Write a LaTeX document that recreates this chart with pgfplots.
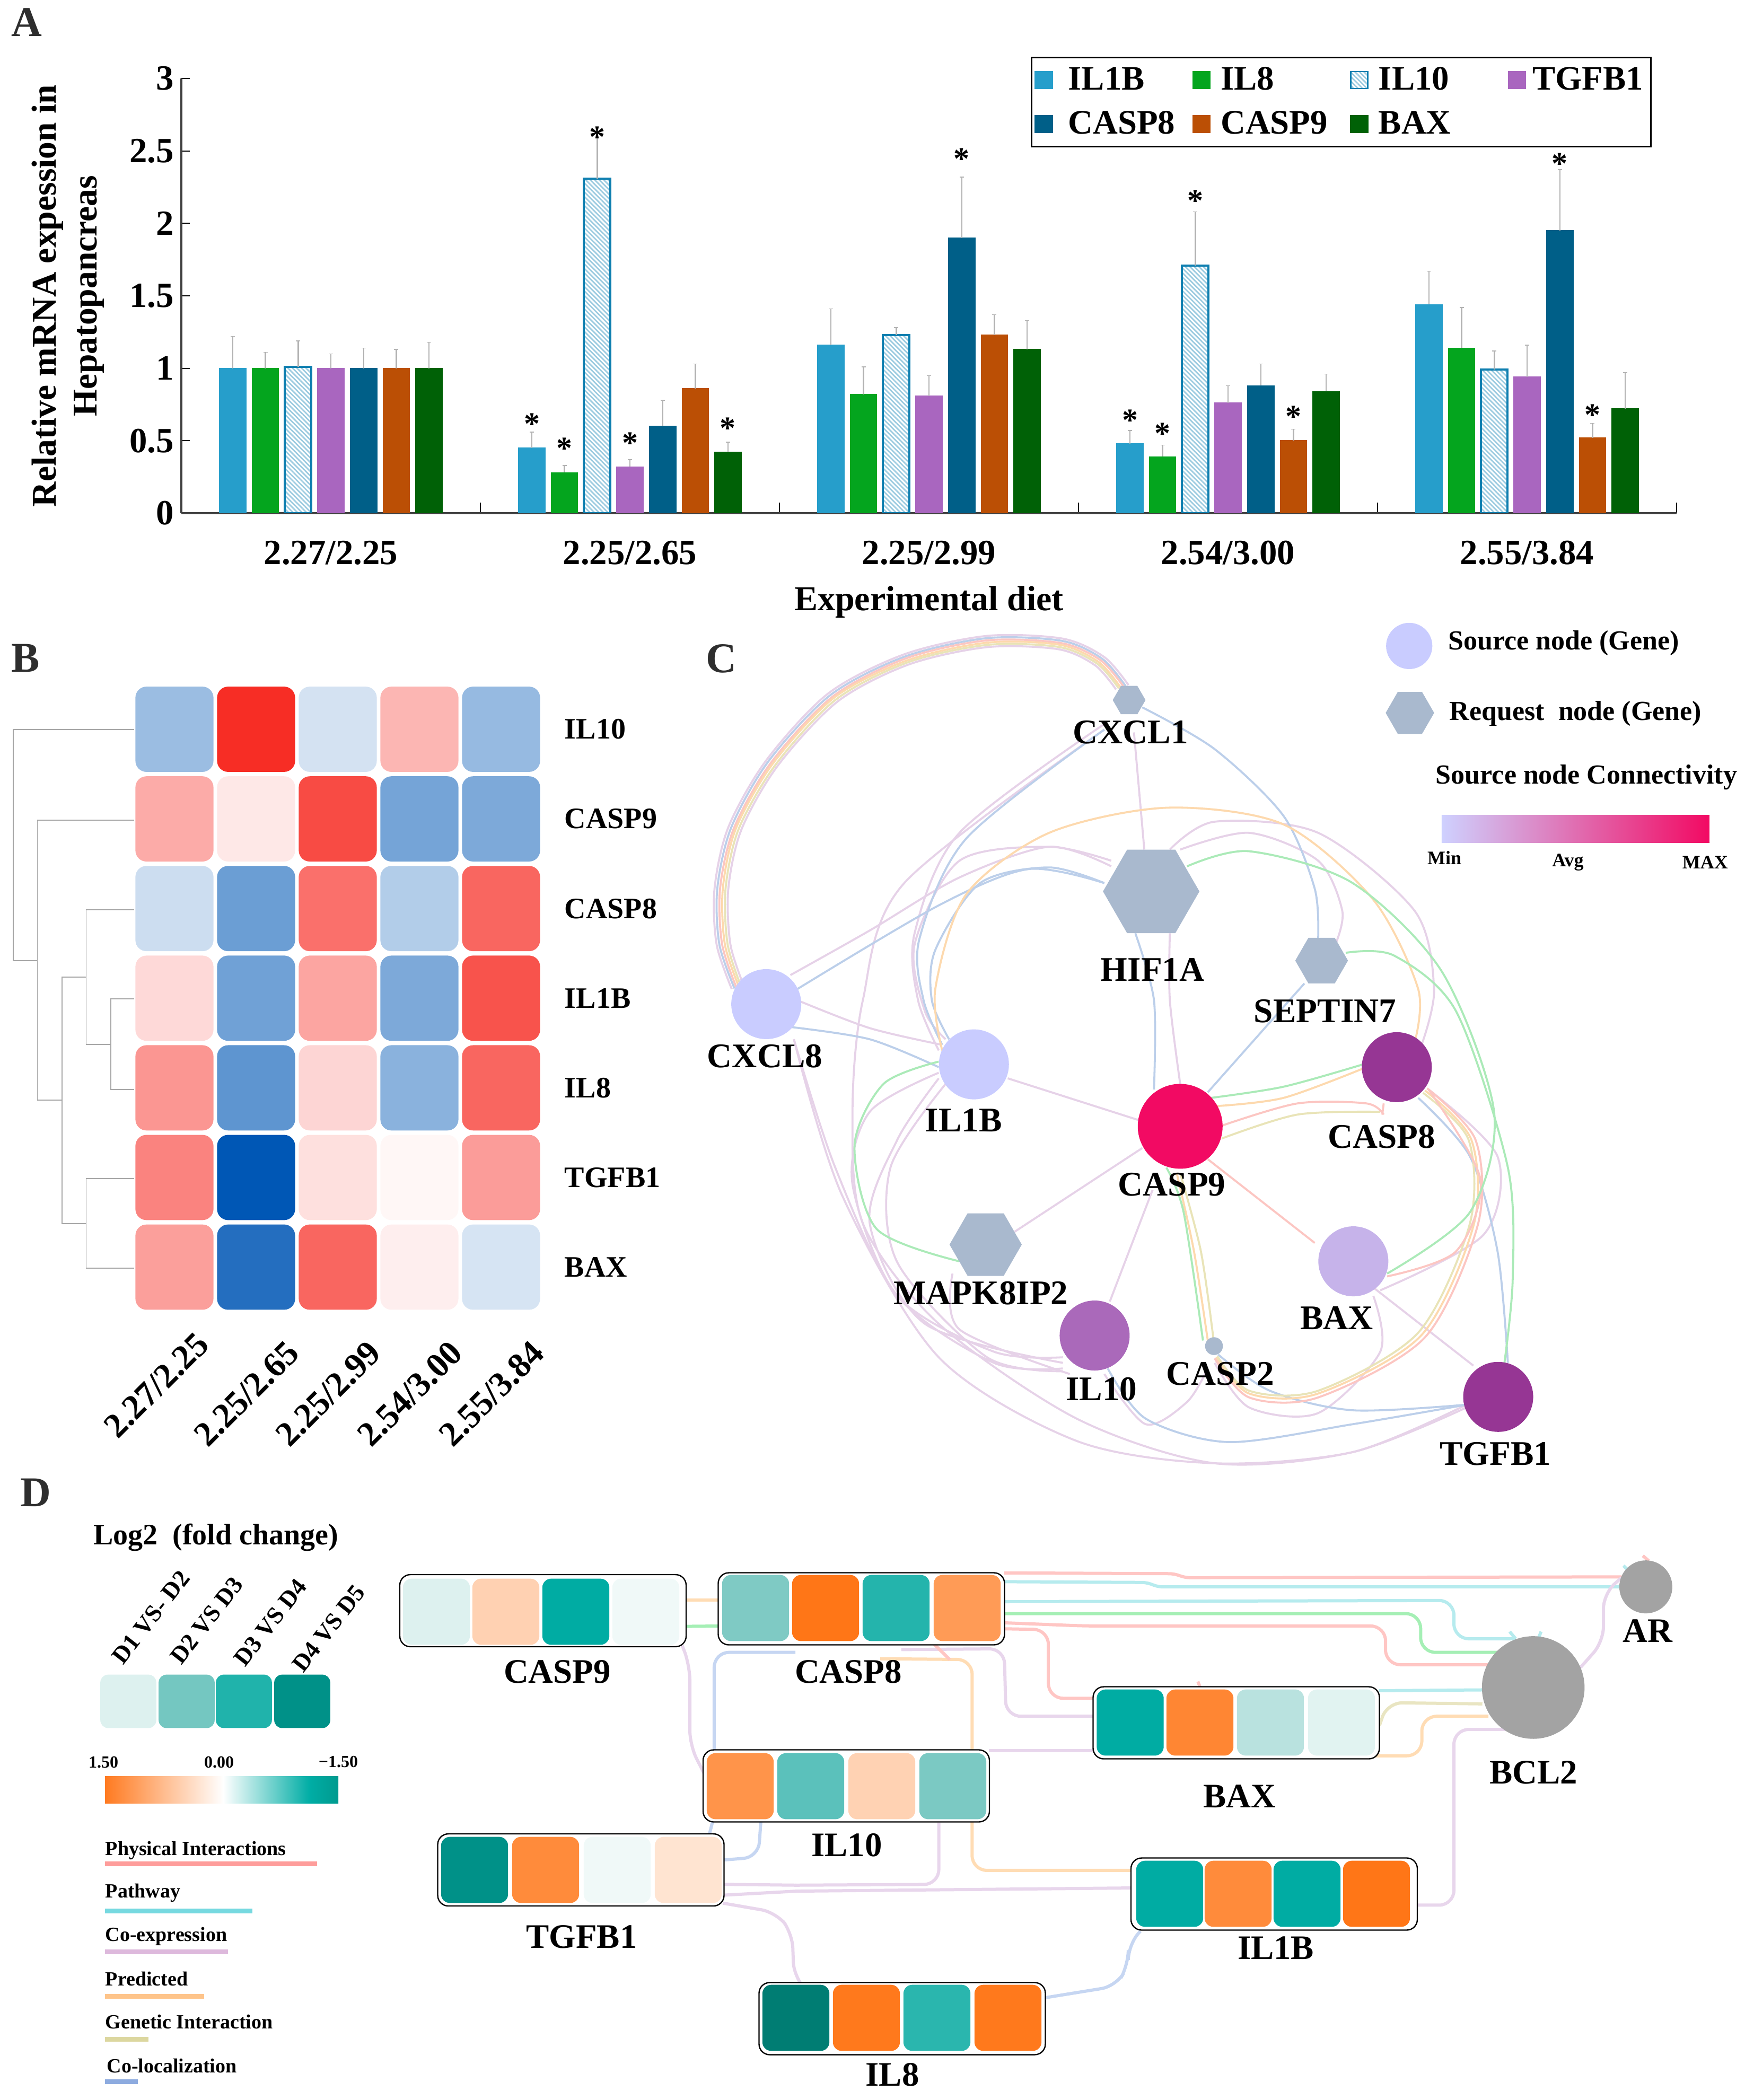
\documentclass[border=0pt]{standalone}
\usepackage{pgfplots}
\pgfplotsset{compat=1.18}
\usepackage{fontspec}
\setmainfont{Liberation Serif}
\usetikzlibrary{patterns.meta}

% text sizes are bold throughout
\newcommand{\fz}[1]{\fontsize{#1}{#1}\selectfont\bfseries}

% bars
\definecolor{cIL1B}{HTML}{269ECB}
\definecolor{cIL8}{HTML}{04A51E}
\definecolor{cIL10}{HTML}{0F7FB0}
\definecolor{cIL10h}{HTML}{9CCBE0}
\definecolor{cTGFB1}{HTML}{A966BF}
\definecolor{cCASP8}{HTML}{005F88}
\definecolor{cCASP9}{HTML}{BB4F05}
\definecolor{cBAX}{HTML}{006106}
% network edges panel C
\definecolor{eCo}{HTML}{E6D2E8}
\definecolor{eLoc}{HTML}{BCCFEA}
\definecolor{ePre}{HTML}{FDD9AE}
\definecolor{ePhy}{HTML}{FCC6C2}
\definecolor{eGen}{HTML}{E9E4B8}
\definecolor{eGrn}{HTML}{ABEAB8}
% edges panel D
\definecolor{dPhy}{HTML}{FFC6C4}
\definecolor{dPat}{HTML}{B6EBEE}
\definecolor{dCo}{HTML}{E8D6EC}
\definecolor{dPre}{HTML}{FFDCB4}
\definecolor{dGen}{HTML}{E9E5C2}
\definecolor{dLoc}{HTML}{C6D6F2}
\definecolor{dGrn}{HTML}{A5EFB5}
% nodes
\definecolor{nSrc}{HTML}{C9CCFF}
\definecolor{nReq}{HTML}{A9B9CE}
\definecolor{nHot}{HTML}{F20A63}
\definecolor{nDark}{HTML}{963694}
\definecolor{nBax}{HTML}{C6B3EA}
\definecolor{nIl}{HTML}{AA69BA}

% rounded rectangle marks: name, half width, half height, radius (pt)
\newcommand{\cellmark}[4]{%
\pgfdeclareplotmark{#1}{%
\pgfpathmoveto{\pgfpoint{-#2pt+#4pt}{-#3pt}}%
\pgfpathlineto{\pgfpoint{#2pt-#4pt}{-#3pt}}%
\pgfpatharc{-90}{0}{#4pt}%
\pgfpathlineto{\pgfpoint{#2pt}{#3pt-#4pt}}%
\pgfpatharc{0}{90}{#4pt}%
\pgfpathlineto{\pgfpoint{-#2pt+#4pt}{#3pt}}%
\pgfpatharc{90}{180}{#4pt}%
\pgfpathlineto{\pgfpoint{-#2pt}{-#3pt+#4pt}}%
\pgfpatharc{180}{270}{#4pt}%
\pgfpathclose
\pgfusepathqfillstroke}}
\cellmark{cellB}{18.2}{19.9}{5}
\cellmark{cellD}{15.6}{15.4}{4}
\cellmark{cellK}{13}{12.4}{3.5}
\cellmark{genebox}{67.5}{17}{5}
\pgfdeclareplotmark{hexa}{%
\pgfpathmoveto{\pgfqpoint{\pgfplotmarksize}{0pt}}%
\pgfpathlineto{\pgfpoint{.5\pgfplotmarksize}{.866\pgfplotmarksize}}%
\pgfpathlineto{\pgfpoint{-.5\pgfplotmarksize}{.866\pgfplotmarksize}}%
\pgfpathlineto{\pgfpoint{-\pgfplotmarksize}{0pt}}%
\pgfpathlineto{\pgfpoint{-.5\pgfplotmarksize}{-.866\pgfplotmarksize}}%
\pgfpathlineto{\pgfpoint{.5\pgfplotmarksize}{-.866\pgfplotmarksize}}%
\pgfpathclose
\pgfusepathqfillstroke}

\newcommand{\ed}[2]{\addplot[smooth,no markers,line width=.95pt,color=#1] coordinates {#2};}
\newcommand{\de}[2]{\addplot[sharp plot,rounded corners=7pt,no markers,line width=1.5pt,color=#1] coordinates {#2};}
\newcommand{\lab}[4]{\node[font=\fz{#4},inner sep=0pt] at (axis cs:#1,#2) {#3};}
\newcommand{\st}[2]{\node[font=\fz{15},inner sep=0pt,yshift=-3pt] at (axis cs:#1,#2) {*};}
\newcommand{\nd}[5]{\addplot[only marks,mark=#1,mark size=#2pt,color=#3,mark options={fill=#3}] coordinates {(#4,#5)};}

\begin{document}
\begin{tikzpicture}
\useasboundingbox (0,0) rectangle (822.5pt,990.25pt);

% ---------- A: bars ----------
\begin{axis}[
at={(85.5pt,748.25pt)},anchor=south west,scale only axis,width=705pt,height=205pt,
xmin=-0.5,xmax=4.5,ymin=0,ymax=3,
ybar=2.925pt,bar width=12.5pt,
axis x line=bottom,axis y line=left,axis line style={-,line width=.8pt,black!75},
xtick={0,1,2,3,4},xticklabels={2.27/2.25,2.25/2.65,2.25/2.99,2.54/3.00,2.55/3.84},
minor xtick={-0.5,0.5,1.5,2.5,3.5,4.5},
major x tick style={draw=none},minor x tick style={black,line width=.5pt},
minor tick length=5pt,tick align=inside,
ytick={0,0.5,1,1.5,2,2.5,3},yticklabels={0,0.5,1,1.5,2,2.5,3},
y tick style={black,line width=.5pt},major tick length=4pt,
/pgf/number format/assume math mode=true,
tick label style={font=\fz{16.7}},
xticklabel style={yshift=-9.6pt},
xlabel={Experimental diet},xlabel style={font=\fz{16.5},yshift=-3pt},
ylabel={Relative mRNA expession in\\[3pt]Hepatopancreas},
ylabel style={align=center,font=\fz{16.4},at={(axis description cs:-0.0465,0.5)},anchor=south},
error bars/y dir=plus,error bars/y explicit,
error bars/error bar style={line width=.6pt,black!30},
error bars/error mark options={rotate=90,mark size=1pt,black!30},
legend columns=4,
legend image code/.code={\draw[#1,line width=.6pt] (1.2pt,-4pt) rectangle (9.2pt,4pt);},
legend style={at={(0.568,1.05)},anchor=north west,draw=black,line width=.7pt,
 font=\fz{16.2},cells={anchor=west},row sep=4.5pt,inner xsep=1.5pt,inner ysep=2.5pt,
 /tikz/every even column/.append style={column sep=0pt}},
]
\addplot[fill=cIL1B,draw=cIL1B] coordinates {(0,1)+-(0,.22) (1,.45)+-(0,.11) (2,1.16)+-(0,.25) (3,.48)+-(0,.09) (4,1.44)+-(0,.23)};
\addlegendentry{\hspace{5.3pt}\makebox[56.5pt][l]{IL1B}}
\addplot[fill=cIL8,draw=cIL8] coordinates {(0,1)+-(0,.11) (1,.28)+-(0,.05) (2,.82)+-(0,.19) (3,.39)+-(0,.08) (4,1.14)+-(0,.28)};
\addlegendentry{\hspace{2.8pt}\makebox[59pt][l]{IL8}}
\addplot[draw=cIL10,line width=1pt,pattern={Lines[angle=-45,distance=1.5pt,line width=.7pt]},pattern color=cIL10h] coordinates {(0,1.01)+-(0,.18) (1,2.31)+-(0,.31) (2,1.23)+-(0,.05) (3,1.71)+-(0,.37) (4,.99)+-(0,.13)};
\addlegendentry{\hspace{2.8pt}\makebox[59pt][l]{IL10}}
\addplot[fill=cTGFB1,draw=cTGFB1] coordinates {(0,1)+-(0,.10) (1,.32)+-(0,.05) (2,.81)+-(0,.14) (3,.76)+-(0,.12) (4,.94)+-(0,.22)};
\addlegendentry{\hspace{1pt}TGFB1}
\addplot[fill=cCASP8,draw=cCASP8] coordinates {(0,1)+-(0,.14) (1,.60)+-(0,.18) (2,1.90)+-(0,.42) (3,.88)+-(0,.15) (4,1.95)+-(0,.42)};
\addlegendentry{\hspace{5.3pt}\makebox[56.5pt][l]{CASP8}}
\addplot[fill=cCASP9,draw=cCASP9] coordinates {(0,1)+-(0,.13) (1,.86)+-(0,.17) (2,1.23)+-(0,.14) (3,.50)+-(0,.08) (4,.52)+-(0,.10)};
\addlegendentry{\hspace{2.8pt}\makebox[59pt][l]{CASP9}}
\addplot[fill=cBAX,draw=cBAX] coordinates {(0,1)+-(0,.18) (1,.42)+-(0,.07) (2,1.13)+-(0,.20) (3,.84)+-(0,.12) (4,.72)+-(0,.25)};
\addlegendentry{\hspace{2.8pt}BAX}
\st{0.672}{.658}\st{0.781}{.49}\st{0.891}{2.64}\st{1}{.527}\st{1.328}{.63}
\st{2.109}{2.49}
\st{2.672}{.686}\st{2.781}{.594}\st{2.891}{2.2}\st{3.219}{.709}
\st{4.109}{2.457}\st{4.219}{.723}
\end{axis}

% ---------- B: heatmap ----------
\begin{axis}[
at={(63pt,371.6pt)},anchor=south west,scale only axis,width=192.5pt,height=295.9pt,
xmin=-0.5,xmax=4.5,ymin=-0.5,ymax=6.5,y dir=reverse,
axis line style={draw=none},major tick length=0pt,
xtick={0,1,2,3,4},xticklabels={\raisebox{5.7pt}[\height][\depth]{2.27/2.25}\hspace{11.7pt},2.25/2.65,2.25/2.99,2.54/3.00,2.55/3.84},
ytick={0,1,2,3,4,5,6},yticklabels={IL10,CASP9,CASP8,IL1B,IL8,TGFB1,BAX},
xticklabel pos=lower,yticklabel pos=upper,
xticklabel style={font=\fz{16.4},rotate=45,anchor=north east,xshift=4pt,yshift=-15pt},
yticklabel style={font=\fz{14},anchor=west,xshift=7.2pt},
colormap={bwr}{rgb255(0)=(0,87,181); rgb255(1)=(255,255,255); rgb255(2)=(247,45,37)},
point meta min=-1,point meta max=1,
scatter/use mapped color={draw=mapped color,fill=mapped color},
]
\addplot[scatter,only marks,mark=cellB,point meta=explicit] coordinates {
(0,0)[-.39] (1,0)[1] (2,0)[-.17] (3,0)[.35] (4,0)[-.41]
(0,1)[.40] (1,1)[.11] (2,1)[.86] (3,1)[-.54] (4,1)[-.51]
(0,2)[-.20] (1,2)[-.58] (2,2)[.68] (3,2)[-.30] (4,2)[.73]
(0,3)[.18] (1,3)[-.56] (2,3)[.43] (3,3)[-.51] (4,3)[.82]
(0,4)[.50] (1,4)[-.63] (2,4)[.20] (3,4)[-.46] (4,4)[.73]
(0,5)[.59] (1,5)[-1] (2,5)[.15] (3,5)[.04] (4,5)[.47]
(0,6)[.46] (1,6)[-.86] (2,6)[.73] (3,6)[.08] (4,6)[-.16]
};
\end{axis}

% ---------- C: network, in zoom units of the crop ----------
\begin{axis}[
at={(312.5pt,290.25pt)},anchor=south west,scale only axis,width=510pt,height=412.5pt,
xmin=0,xmax=1568,ymin=0,ymax=1568,y dir=reverse,hide axis,clip=false,
]
% bundle CXCL8 - CXCL1
\ed{eCo}{(100,680)(78,600)(75,500)(95,390)(150,270)(240,150)(350,80)(470,47)(580,52)(640,85)(675,135)}
\ed{eLoc}{(104,679)(82,600)(79,500)(99,391)(153,272)(243,153)(351,84)(470,51)(579,56)(637,88)(671,137)}
\ed{ePhy}{(107,678)(86,600)(83,500)(103,392)(157,274)(246,156)(353,87)(470,55)(578,60)(635,91)(668,138)}
\ed{ePre}{(111,678)(90,600)(87,500)(106,392)(160,275)(248,158)(354,91)(471,59)(576,63)(632,94)(664,140)}
\ed{eGen}{(114,677)(94,600)(91,500)(110,393)(164,277)(251,161)(356,94)(471,63)(575,67)(630,97)(661,141)}
\ed{eCo}{(118,676)(98,600)(95,500)(114,394)(167,279)(254,164)(357,98)(471,67)(574,71)(627,100)(657,143)}
% co-expression
\ed{eCo}{(185,655)(300,575)(430,480)(560,425)(650,460)}
\ed{eCo}{(640,215)(350,490)(290,700)(275,900)(290,1100)(400,1280)(600,1450)(800,1530)(1000,1510)(1165,1425)}
\ed{eCo}{(640,205)(430,400)(365,580)(370,700)(400,790)}
\ed{eCo}{(195,700)(300,750)(405,780)}
\ed{eCo}{(500,840)(690,915)}
\ed{eCo}{(650,450)(560,425)(430,450)(365,600)(380,720)(410,770)}
\ed{eCo}{(735,580)(735,700)(750,850)}
\ed{eCo}{(683,220)(698,430)}
\ed{eCo}{(750,430)(850,400)(950,450)(985,540)(975,600)}
\ed{eCo}{(735,430)(800,380)(950,400)(1090,540)(1118,680)(1100,780)}
\ed{eCo}{(695,965)(510,1115)}
\ed{eCo}{(710,1040)(648,1240)}
\ed{eCo}{(1110,860)(1210,980)(1190,1120)(1040,1220)}
\ed{eCo}{(1030,1215)(1175,1355)}
\ed{eCo}{(400,830)(300,900)(275,1030)(340,1230)(480,1330)(580,1340)}
\ed{eCo}{(400,840)(340,950)(300,1100)(380,1280)(580,1350)}
\ed{eCo}{(410,850)(330,1000)(340,1170)(470,1340)(580,1365)}
\ed{eCo}{(190,770)(250,1000)(340,1230)(480,1350)(580,1360)}
\ed{eCo}{(420,1190)(430,1290)(590,1370)}
\ed{eCo}{(640,1370)(700,1460)(760,1420)(790,1360)}
\ed{eCo}{(1030,1230)(1040,1330)(950,1440)(850,1430)(800,1350)}
\ed{eCo}{(190,770)(260,1050)(400,1340)(600,1490)(800,1530)(1000,1510)(1165,1430)}
% co-localization
\ed{eLoc}{(185,748)(300,770)(400,820)}
\ed{eLoc}{(640,490)(560,462)(460,490)(395,610)(390,700)(415,770)}
\ed{eLoc}{(195,680)(400,530)(530,465)(640,490)}
\ed{eLoc}{(640,215)(440,410)(372,590)(378,700)(405,780)}
\ed{eLoc}{(685,580)(712,700)(712,860)}
\ed{eLoc}{(695,175)(800,250)(900,370)(945,500)(950,590)}
\ed{eLoc}{(930,670)(790,865)}
\ed{eLoc}{(1095,875)(1170,980)(1210,1150)(1225,1350)}
\ed{eLoc}{(805,1335)(880,1400)(1000,1435)(1165,1425)}
\ed{eLoc}{(645,1360)(700,1450)(820,1492)(1000,1460)(1165,1425)}
% predicted
\ed{ePre}{(405,790)(395,680)(440,510)(560,400)(730,355)(900,385)(1030,520)(1095,680)(1090,775)}
\ed{ePre}{(800,890)(900,875)(1020,820)}
\ed{ePre}{(745,1010)(770,1150)(790,1310)}
\ed{ePre}{(1105,862)(1172,950)(1176,1100)(1100,1300)(950,1405)(850,1405)(802,1340)}
% genetic
\ed{eGen}{(810,948)(920,905)(1040,900)}
\ed{eGen}{(750,1010)(780,1150)(798,1305)}
\ed{eGen}{(1102,866)(1168,950)(1170,1100)(1095,1296)(950,1400)(850,1400)(804,1338)}
% physical
\ed{ePhy}{(810,925)(920,885)(1020,885)(1045,905)}
\ed{ePhy}{(1045,885)(1043,905)}
\ed{ePhy}{(790,985)(945,1135)}
\ed{ePhy}{(1050,1195)(1150,1150)(1185,1020)(1110,860)}
\ed{ePhy}{(1108,858)(1178,950)(1182,1100)(1105,1304)(950,1412)(850,1412)(800,1342)}
% green
\ed{eGrn}{(760,460)(850,433)(1000,490)(1130,650)(1205,900)(1170,1080)(1050,1190)}
\ed{eGrn}{(990,615)(1060,620)(1150,720)(1225,1000)(1232,1200)(1220,1350)}
\ed{eGrn}{(795,875)(900,855)(1015,815)}
\ed{eGrn}{(730,1000)(755,1080)(783,1310)}
\ed{eGrn}{(400,810)(320,850)(278,960)(310,1110)(430,1168)}
% nodes
\nd{*}{16.3}{nSrc}{150}{707}
\nd{*}{16.3}{nSrc}{451}{815}
\nd{*}{19.8}{nHot}{750}{926}
\nd{*}{16.3}{nDark}{1064}{820}
\nd{*}{16.3}{nBax}{1001}{1168}
\nd{*}{16.3}{nIl}{626}{1301}
\nd{*}{16.3}{nDark}{1211}{1411}
\nd{*}{4}{nReq}{799}{1320}
\nd{hexa}{7.5}{nReq}{676}{162}
\nd{hexa}{22.5}{nReq}{708}{505}
\nd{hexa}{12.2}{nReq}{955}{629}
\nd{hexa}{16.8}{nReq}{468}{1138}
\nd{*}{10.7}{nSrc}{1082}{65}
\nd{hexa}{11.2}{nReq}{1083}{185}
\lab{678}{220}{CXCL1}{16.3}
\lab{710}{645}{HIF1A}{16.3}
\lab{960}{720}{SEPTIN7}{16.3}
\lab{148}{800}{CXCL8}{16.3}
\lab{436}{915}{IL1B}{16.3}
\lab{738}{1030}{CASP9}{16.3}
\lab{1042}{945}{CASP8}{16.3}
\lab{461}{1225}{MAPK8IP2}{16.3}
\lab{977}{1270}{BAX}{16.3}
\lab{636}{1397}{IL10}{16.3}
\lab{808}{1370}{CASP2}{16.3}
\lab{1207}{1513}{TGFB1}{16.3}
\node[font=\fz{20},text=black!82,inner sep=0pt] at (axis cs:85,88) {C};
\node[font=\fz{13},anchor=west,inner sep=0pt] at (axis cs:1138,60) {Source node (Gene)};
\node[font=\fz{13},anchor=west,inner sep=0pt] at (axis cs:1140,186) {Request~~node (Gene)};
\node[font=\fz{13},anchor=west,inner sep=0pt] at (axis cs:1120,300) {Source node Connectivity};
\fill[left color=nSrc!90!white,middle color=nIl,right color=nHot] (axis cs:1129,368) rectangle (axis cs:1517,418);
\lab{1133}{445}{Min}{9}
\lab{1312}{453}{Avg}{9}
\lab{1511}{453}{MAX}{9}
\end{axis}

% ---------- D: edges, left crop ----------
\begin{axis}[
at={(0pt,0pt)},anchor=south west,scale only axis,width=375pt,height=295.25pt,
xmin=0,xmax=1568,ymin=0,ymax=1568,y dir=reverse,hide axis,clip=false,
]
\de{dPre}{(1340,316)(1420,316)}
\de{dGrn}{(1340,382)(1420,381)}
\de{dCo}{(1345,430)(1360,480)(1360,680)(1388,750)}
\de{dLoc}{(1568,447)(1408,447)(1408,695)}
\de{dLoc}{(1405,870)(1398,905)}
\de{dLoc}{(1500,870)(1495,960)(1425,967)}
\de{dCo}{(1427,1028)(1570,1030)}
\de{dCo}{(1427,1055)(1570,1045)}
\de{dCo}{(1425,1075)(1530,1098)(1562,1150)(1565,1260)(1580,1280)}
\addplot[line width=2.2pt,color={rgb,255:red,254;green,157;blue,155},no markers] coordinates {(207,977)(625,977)};
\addplot[line width=2.2pt,color={rgb,255:red,118;green,217;blue,224},no markers] coordinates {(207,1095)(498,1095)};
\addplot[line width=2.2pt,color={rgb,255:red,221;green,185;blue,220},no markers] coordinates {(207,1197)(449,1197)};
\addplot[line width=2.2pt,color={rgb,255:red,254;green,196;blue,138},no markers] coordinates {(207,1308)(402,1308)};
\addplot[line width=2.2pt,color={rgb,255:red,220;green,215;blue,159},no markers] coordinates {(207,1416)(293,1416)};
\addplot[line width=2.2pt,color={rgb,255:red,141;green,171;blue,223},no markers] coordinates {(207,1522)(272,1522)};
\node[font=\fz{9.5},anchor=west,inner sep=0pt] at (axis cs:207,943) {Physical Interactions};
\node[font=\fz{9.5},anchor=west,inner sep=0pt] at (axis cs:207,1050) {Pathway};
\node[font=\fz{9.5},anchor=west,inner sep=0pt] at (axis cs:207,1158) {Co-expression};
\node[font=\fz{9.5},anchor=west,inner sep=0pt] at (axis cs:207,1265) {Predicted};
\node[font=\fz{9.5},anchor=west,inner sep=0pt] at (axis cs:207,1372) {Genetic Interaction};
\node[font=\fz{9.5},anchor=west,inner sep=0pt] at (axis cs:210,1483) {Co-localization};
\end{axis}

% ---------- D: edges, right crop ----------
\begin{axis}[
at={(375pt,0pt)},anchor=south west,scale only axis,width=447.5pt,height=295.25pt,
xmin=0,xmax=1568,ymin=0,ymax=1568,y dir=reverse,hide axis,clip=false,
]
\addplot[sharp plot,rounded corners=2pt,no markers,line width=1.5pt,color=dPhy] coordinates {(345,248)(625,250)(645,260)(1365,258)};
\addplot[sharp plot,rounded corners=2pt,no markers,line width=1.5pt,color=dPat] coordinates {(345,270)(580,272)(600,283)(1365,283)};
\de{dPat}{(345,320)(1088,317)(1088,413)(1190,413)}
\de{dGrn}{(345,350)(1033,350)(1033,447)(1160,447)}
\de{dPhy}{(345,373)(480,381)(975,381)(975,478)(1145,478)}
\de{dPhy}{(345,388)(418,390)(418,562)(495,562)}
\de{dCo}{(175,440)(345,438)(348,607)(495,607)}
\de{dPre}{(140,463)(292,465)(292,993)(555,993)}
\de{dPhy}{(225,420)(255,465)}
\de{dCo}{(320,693)(495,693)}
\de{dCo}{(237,873)(237,1028)(0,1030)}
\de{dCo}{(0,1045)(555,1037)}
\de{dPat}{(964,543)(1135,541)}
\de{dGen}{(965,630)(978,573)(1135,576)}
\de{dPre}{(800,706)(1035,706)(1035,607)(1145,607)}
\de{dCo}{(1017,1080)(1088,1080)(1088,640)(1180,640)}
\de{dCo}{(1297,485)(1335,420)(1335,300)(1365,260)}
\de{dLoc}{(412,1312)(530,1283)(550,1230)(550,1180)(570,1145)}
\de{dPat}{(1180,395)(1190,413)}
\de{dPat}{(1232,395)(1228,410)}
\de{dPat}{(1368,230)(1375,240)}
\de{dPhy}{(1400,205)(1410,218)}
\de{dPhy}{(665,520)(670,540)}
\addplot[only marks,mark=*,mark size=24pt,color=black!36,mark options={fill=black!36}] coordinates {(1219,535)};
\addplot[only marks,mark=*,mark size=12.3pt,color=black!36,mark options={fill=black!36}] coordinates {(1405,283)};
\end{axis}

% ---------- whole page in pixels: dendrogram, gene boxes, labels ----------
\begin{axis}[
at={(0pt,0pt)},anchor=south west,scale only axis,width=822.5pt,height=990.25pt,
xmin=0,xmax=3290,ymin=0,ymax=3961,y dir=reverse,hide axis,clip=false,
colormap={fc}{rgb255(0)=(0,125,115); rgb255(3)=(0,172,163); rgb255(9)=(127,202,196); rgb255(15)=(255,255,255); rgb255(30)=(255,118,23)},
point meta min=-1.5,point meta max=1.5,
scatter/use mapped color={draw=mapped color,fill=mapped color},
]
% dendrogram of panel B
\addplot[black!35,line width=.45pt,no markers] coordinates {(253,1376)(25,1376)(25,1812)(70.5,1812)};
\addplot[black!35,line width=.45pt,no markers] coordinates {(253,1547)(70.5,1547)(70.5,2075)(117,2075)};
\addplot[black!35,line width=.45pt,no markers] coordinates {(162.5,1843)(117,1843)(117,2308)(162.5,2308)};
\addplot[black!35,line width=.45pt,no markers] coordinates {(253,1716)(162.5,1716)(162.5,1970)(209,1970)};
\addplot[black!35,line width=.45pt,no markers] coordinates {(253,1884)(209,1884)(209,2055)(253,2055)};
\addplot[black!35,line width=.45pt,no markers] coordinates {(253,2223)(162.5,2223)(162.5,2392)(253,2392)};
% gene boxes and cells of panel D
\addplot[only marks,mark=genebox,mark options={fill=white,draw=black,line width=.6pt}] coordinates {
(1024,3038)(1624.5,3034.5)(2331.5,3249.5)(1596,3368.5)(1095.5,3527)(2403,3572.5)(1701.5,3807.5)};
\addplot[scatter,only marks,mark=cellD,point meta=explicit] coordinates {
(823,3040)[-.16] (954,3040)[.50] (1086,3040)[-1.2] (1218,3040)[-.07]
(1425,3033)[-.6] (1557,3033)[1.5] (1690,3033)[-1.03] (1824,3033)[1.09]
(2131.5,3249)[-1.2] (2263,3249)[1.32] (2396,3249)[-.33] (2530,3249)[-.14]
(1396,3369)[1.17] (1529,3369)[-.77] (1663,3369)[.49] (1797,3369)[-.62]
(895,3527)[-1.37] (1029,3527)[1.27] (1164,3527)[-.07] (1298,3527)[.3]
(2206,3572)[-1.2] (2335,3572)[1.27] (2465,3572)[-1.2] (2596,3572)[1.5]
(1501,3806)[-1.5] (1634,3806)[1.47] (1767,3806)[-1.0] (1901,3806)[1.47]
};
\addplot[scatter,only marks,mark=cellK,point meta=explicit] coordinates {
(242,3209)[-.16] (352,3209)[-.65] (460,3209)[-1.05] (570,3209)[-1.37]
};
\fill[left color={rgb,255:red,255;green,122;blue,32},right color=white] (axis cs:198,3350) rectangle (axis cs:421,3401);
\fill[left color=white,right color={rgb,255:red,0;green,173;blue,165}] (axis cs:421,3350) rectangle (axis cs:584,3401);
\fill[left color={rgb,255:red,0;green,173;blue,165},right color={rgb,255:red,0;green,154;blue,143}] (axis cs:584,3350) rectangle (axis cs:638,3401);
\lab{195}{3324}{1.50}{8}
\lab{413}{3324}{0.00}{8}
\lab{638}{3323}{−1.50}{8}
\node[font=\fz{14},inner sep=0pt] at (axis cs:407,2900) {Log2~~(fold change)};
\node[font=\fz{11.4},rotate=52,anchor=south west,inner sep=0pt] at (axis cs:233,3143) {D1 VS- D2};
\node[font=\fz{11.4},rotate=52,anchor=south west,inner sep=0pt] at (axis cs:343,3143) {D2 VS D3};
\node[font=\fz{11.4},rotate=52,anchor=south west,inner sep=0pt] at (axis cs:463,3147) {D3 VS D4};
\node[font=\fz{11.4},rotate=52,anchor=south west,inner sep=0pt] at (axis cs:573,3158) {D4 VS D5};
\lab{1051}{3153}{CASP9}{16.2}
\lab{1600}{3153}{CASP8}{16.2}
\lab{1597}{3480}{IL10}{16.2}
\lab{2338}{3388}{BAX}{16.2}
\lab{2892}{3343}{BCL2}{16.2}
\lab{3107}{3076}{AR}{16.2}
\lab{2406}{3674}{IL1B}{16.2}
\lab{1683}{3913}{IL8}{16.2}
\lab{1097}{3653}{TGFB1}{16.2}
\node[font=\fz{20},text=black!82,inner sep=0pt] at (axis cs:50,42) {A};
\node[font=\fz{20},text=black!82,inner sep=0pt] at (axis cs:48,1241) {B};
\node[font=\fz{20},text=black!82,inner sep=0pt] at (axis cs:67,2815) {D};
\end{axis}
\end{tikzpicture}
\end{document}
